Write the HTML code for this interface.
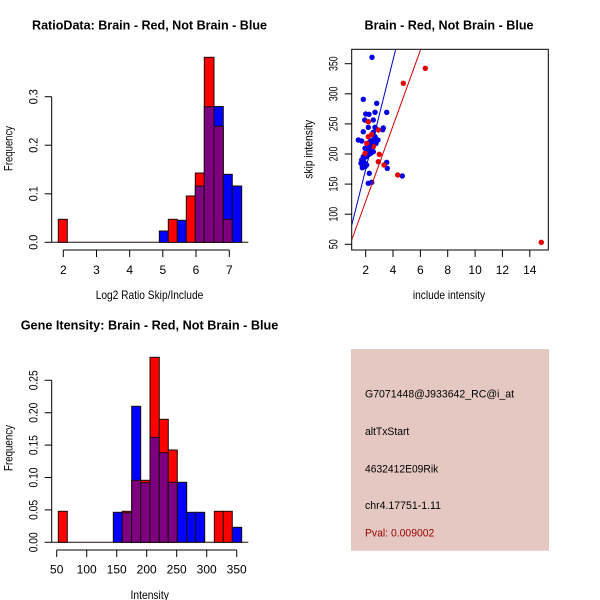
<!DOCTYPE html>
<html><head><meta charset="utf-8"><style>
html,body{margin:0;padding:0;background:#fff;}
svg{display:block;}
text{font-family:"Liberation Sans",sans-serif;fill:#000;}
.t{font-weight:bold;font-size:12.8px;}
.l{font-size:12px;}
</style></head><body>
<svg width="600" height="600" viewBox="0 0 600 600" xmlns="http://www.w3.org/2000/svg">
<rect width="600" height="600" fill="#fff"/>

<!-- ===== Top-left histogram ===== -->
<text class="t" x="149.5" y="29.5" text-anchor="middle" textLength="235" lengthAdjust="spacingAndGlyphs">RatioData: Brain - Red, Not Brain - Blue</text>
<g stroke="#1a0a0a" stroke-width="1">
<line x1="51.7" y1="242.3" x2="248.3" y2="242.3"/>
<rect x="58.3" y="219.3" width="9" height="23" fill="#ff0000"/>
<rect x="159.3" y="231" width="9" height="11.3" fill="#0000ff"/>
<rect x="168.3" y="219.3" width="9" height="23" fill="#ff0000"/>
<rect x="177.3" y="220.3" width="9" height="22" fill="#0000ff"/>
<rect x="186.3" y="196" width="9" height="46.3" fill="#ff0000"/>
<rect x="195.3" y="173" width="9" height="69.3" fill="#ff0000"/>
<rect x="195.3" y="186" width="9" height="56.3" fill="#7d0080"/>
<rect x="204.3" y="57.3" width="9.7" height="185" fill="#ff0000"/>
<rect x="204.3" y="106.7" width="9.7" height="135.6" fill="#7d0080"/>
<rect x="214" y="106.5" width="9.3" height="135.8" fill="#0000ff"/>
<rect x="214" y="126.3" width="9.3" height="116" fill="#7d0080"/>
<rect x="223.3" y="174.3" width="9" height="68" fill="#0000ff"/>
<rect x="223.3" y="219.3" width="9" height="23" fill="#7d0080"/>
<rect x="232.3" y="186" width="9.4" height="56.3" fill="#0000ff"/>
</g>
<g stroke="#000" stroke-width="1" fill="none">
<line x1="51.7" y1="96.7" x2="51.7" y2="242.3"/>
<line x1="44.7" y1="96.7" x2="51.7" y2="96.7"/>
<line x1="44.7" y1="145.2" x2="51.7" y2="145.2"/>
<line x1="44.7" y1="193.8" x2="51.7" y2="193.8"/>
<line x1="44.7" y1="242.3" x2="51.7" y2="242.3"/>
<line x1="63.3" y1="250" x2="229.3" y2="250"/>
<line x1="63.3" y1="250" x2="63.3" y2="257"/>
<line x1="96.5" y1="250" x2="96.5" y2="257"/>
<line x1="129.7" y1="250" x2="129.7" y2="257"/>
<line x1="162.8" y1="250" x2="162.8" y2="257"/>
<line x1="196" y1="250" x2="196" y2="257"/>
<line x1="229.3" y1="250" x2="229.3" y2="257"/>
</g>
<g class="l" text-anchor="middle">
<text x="63.3" y="274">2</text><text x="96.5" y="274">3</text><text x="129.7" y="274">4</text>
<text x="162.8" y="274">5</text><text x="196" y="274">6</text><text x="229.3" y="274">7</text>
<text x="149.5" y="299" textLength="107.6" lengthAdjust="spacingAndGlyphs">Log2 Ratio Skip/Include</text>
<text transform="translate(37.3,242.3) rotate(-90)" textLength="15" lengthAdjust="spacingAndGlyphs">0.0</text>
<text transform="translate(37.3,193.8) rotate(-90)" textLength="15" lengthAdjust="spacingAndGlyphs">0.1</text>
<text transform="translate(37.3,145.2) rotate(-90)" textLength="15" lengthAdjust="spacingAndGlyphs">0.2</text>
<text transform="translate(37.3,96.7) rotate(-90)" textLength="15" lengthAdjust="spacingAndGlyphs">0.3</text>
<text transform="translate(12.3,148.5) rotate(-90)" textLength="45" lengthAdjust="spacingAndGlyphs">Frequency</text>
</g>

<!-- ===== Top-right scatter ===== -->
<text class="t" x="449" y="29.5" text-anchor="middle" textLength="169" lengthAdjust="spacingAndGlyphs">Brain - Red, Not Brain - Blue</text>
<defs><clipPath id="cp"><rect x="351.7" y="49.3" width="196.6" height="200.7"/></clipPath></defs>
<g fill="#0000e6">
<circle cx="372" cy="57.3" r="2.7"/>
<circle cx="363.3" cy="99.3" r="2.7"/>
<circle cx="376.7" cy="103.3" r="2.7"/>
<circle cx="365.7" cy="114" r="2.7"/>
<circle cx="369" cy="114.3" r="2.7"/>
<circle cx="375" cy="112.3" r="2.7"/>
<circle cx="386.7" cy="112.3" r="2.7"/>
<circle cx="364.7" cy="120" r="2.7"/>
<circle cx="373.3" cy="120" r="2.7"/>
<circle cx="368.3" cy="127.3" r="2.7"/>
<circle cx="375" cy="127.3" r="2.7"/>
<circle cx="383.3" cy="128" r="2.7"/>
<circle cx="382.7" cy="129.7" r="2.7"/>
<circle cx="363.3" cy="131.7" r="2.7"/>
<circle cx="373.3" cy="132.3" r="2.7"/>
<circle cx="358.3" cy="140" r="2.7"/>
<circle cx="361.7" cy="141" r="2.7"/>
<circle cx="375" cy="138.3" r="2.7"/>
<circle cx="370" cy="141.7" r="2.7"/>
<circle cx="371.7" cy="145" r="2.7"/>
<circle cx="365" cy="148.3" r="2.7"/>
<circle cx="373.3" cy="146.7" r="2.7"/>
<circle cx="368.3" cy="151.7" r="2.7"/>
<circle cx="366.7" cy="156.7" r="2.7"/>
<circle cx="363.3" cy="160" r="2.7"/>
<circle cx="365" cy="163.3" r="2.7"/>
<circle cx="386.7" cy="162.3" r="2.7"/>
<circle cx="387.3" cy="168.3" r="2.7"/>
<circle cx="363.3" cy="166.7" r="2.7"/>
<circle cx="366.7" cy="165" r="2.7"/>
<circle cx="369.3" cy="173.3" r="2.7"/>
<circle cx="368.3" cy="183.3" r="2.7"/>
<circle cx="371.7" cy="182.3" r="2.7"/>
<circle cx="402.3" cy="176" r="2.7"/>
<circle cx="376" cy="143.3" r="2.7"/>
<circle cx="378" cy="140" r="2.7"/>
<circle cx="375" cy="136.7" r="2.7"/>
<circle cx="372.7" cy="140" r="2.7"/>
<circle cx="371" cy="143.3" r="2.7"/>
<circle cx="369.3" cy="146.7" r="2.7"/>
<circle cx="368.3" cy="155" r="2.7"/>
<circle cx="363.3" cy="156.7" r="2.7"/>
<circle cx="361.7" cy="160" r="2.7"/>
<circle cx="361" cy="163.3" r="2.7"/>
<circle cx="365" cy="166.7" r="2.7"/>
<circle cx="362.3" cy="167.7" r="2.7"/>
<circle cx="373.3" cy="151.7" r="2.7"/>
<circle cx="370.7" cy="153.3" r="2.7"/>
<circle cx="371.3" cy="150" r="2.7"/>
</g>
<g fill="#e60000">
<circle cx="403.3" cy="83.3" r="2.7"/>
<circle cx="425.3" cy="68.3" r="2.7"/>
<circle cx="541.3" cy="242.3" r="2.7"/>
<circle cx="368.3" cy="121.7" r="2.7"/>
<circle cx="378.3" cy="130" r="2.7"/>
<circle cx="368.3" cy="136.7" r="2.7"/>
<circle cx="371.7" cy="134.3" r="2.7"/>
<circle cx="366.7" cy="143.3" r="2.7"/>
<circle cx="365" cy="153.3" r="2.7"/>
<circle cx="379.3" cy="154.3" r="2.7"/>
<circle cx="378.3" cy="161.7" r="2.7"/>
<circle cx="384" cy="165" r="2.7"/>
<circle cx="397.7" cy="175" r="2.7"/>
<circle cx="373.5" cy="146.5" r="2.7"/>
</g>
<g clip-path="url(#cp)" stroke-width="1">
<line x1="351.7" y1="225.3" x2="395.7" y2="49.3" stroke="#0000cc"/>
<line x1="351.7" y1="240" x2="420.7" y2="49.3" stroke="#cc0000"/>
</g>
<g stroke="#000" stroke-width="1" fill="none">
<rect x="351.7" y="49.3" width="196.6" height="200.7"/>
<line x1="344.7" y1="63.7" x2="351.7" y2="63.7"/>
<line x1="344.7" y1="93.8" x2="351.7" y2="93.8"/>
<line x1="344.7" y1="123.9" x2="351.7" y2="123.9"/>
<line x1="344.7" y1="154" x2="351.7" y2="154"/>
<line x1="344.7" y1="184.1" x2="351.7" y2="184.1"/>
<line x1="344.7" y1="214.2" x2="351.7" y2="214.2"/>
<line x1="344.7" y1="244.3" x2="351.7" y2="244.3"/>
<line x1="365.7" y1="250" x2="365.7" y2="257"/>
<line x1="393" y1="250" x2="393" y2="257"/>
<line x1="420.4" y1="250" x2="420.4" y2="257"/>
<line x1="447.7" y1="250" x2="447.7" y2="257"/>
<line x1="475.1" y1="250" x2="475.1" y2="257"/>
<line x1="502.4" y1="250" x2="502.4" y2="257"/>
<line x1="529.8" y1="250" x2="529.8" y2="257"/>
</g>
<g class="l" text-anchor="middle">
<text x="365.7" y="274">2</text><text x="393" y="274">4</text><text x="420.4" y="274">6</text>
<text x="447.7" y="274">8</text><text x="475.1" y="274">10</text><text x="502.4" y="274">12</text><text x="529.8" y="274">14</text>
<text x="449" y="299" textLength="72.3" lengthAdjust="spacingAndGlyphs">include intensity</text>
<text transform="translate(337.3,63.7) rotate(-90)" textLength="14.7" lengthAdjust="spacingAndGlyphs">350</text>
<text transform="translate(337.3,93.8) rotate(-90)" textLength="14.7" lengthAdjust="spacingAndGlyphs">300</text>
<text transform="translate(337.3,123.9) rotate(-90)" textLength="14.7" lengthAdjust="spacingAndGlyphs">250</text>
<text transform="translate(337.3,154) rotate(-90)" textLength="14.7" lengthAdjust="spacingAndGlyphs">200</text>
<text transform="translate(337.3,184.1) rotate(-90)" textLength="14.7" lengthAdjust="spacingAndGlyphs">150</text>
<text transform="translate(337.3,214.2) rotate(-90)" textLength="14.7" lengthAdjust="spacingAndGlyphs">100</text>
<text transform="translate(337.3,244.3) rotate(-90)" textLength="10" lengthAdjust="spacingAndGlyphs">50</text>
<text transform="translate(312.3,149.3) rotate(-90)" textLength="59" lengthAdjust="spacingAndGlyphs">skip intensity</text>
</g>

<!-- ===== Bottom-left histogram ===== -->
<text class="t" x="149.5" y="329.5" text-anchor="middle" textLength="257.6" lengthAdjust="spacingAndGlyphs">Gene Itensity: Brain - Red, Not Brain - Blue</text>
<g stroke="#1a0a0a" stroke-width="1">
<line x1="51.7" y1="542.3" x2="248.3" y2="542.3"/>
<rect x="58.3" y="511.3" width="9" height="31" fill="#ff0000"/>
<rect x="113.3" y="512.3" width="9" height="30" fill="#0000ff"/>
<rect x="122.3" y="511.3" width="9.4" height="31" fill="#ff0000"/>
<rect x="122.3" y="512.7" width="9.4" height="29.6" fill="#7d0080"/>
<rect x="131.7" y="406.3" width="9" height="136" fill="#0000ff"/>
<rect x="131.7" y="480.3" width="9" height="62" fill="#7d0080"/>
<rect x="140.7" y="480.3" width="9.3" height="62" fill="#ff0000"/>
<rect x="140.7" y="482.7" width="9.3" height="59.6" fill="#7d0080"/>
<rect x="150" y="357.3" width="9.3" height="185" fill="#ff0000"/>
<rect x="150" y="437.3" width="9.3" height="105" fill="#7d0080"/>
<rect x="159.3" y="419.3" width="9" height="123" fill="#ff0000"/>
<rect x="159.3" y="452.7" width="9" height="89.6" fill="#7d0080"/>
<rect x="168.3" y="450" width="9" height="92.3" fill="#ff0000"/>
<rect x="168.3" y="482.3" width="9" height="60" fill="#7d0080"/>
<rect x="177.3" y="482.3" width="9.4" height="60" fill="#0000ff"/>
<rect x="186.7" y="512.3" width="9" height="30" fill="#0000ff"/>
<rect x="195.7" y="512.3" width="9" height="30" fill="#0000ff"/>
<rect x="214.3" y="511.3" width="9" height="31" fill="#ff0000"/>
<rect x="223.3" y="511.3" width="9" height="31" fill="#ff0000"/>
<rect x="232.3" y="527.3" width="9.4" height="15" fill="#0000ff"/>
</g>
<g stroke="#000" stroke-width="1" fill="none">
<line x1="51.7" y1="380.3" x2="51.7" y2="542.3"/>
<line x1="44.7" y1="380.3" x2="51.7" y2="380.3"/>
<line x1="44.7" y1="412.7" x2="51.7" y2="412.7"/>
<line x1="44.7" y1="445.1" x2="51.7" y2="445.1"/>
<line x1="44.7" y1="477.5" x2="51.7" y2="477.5"/>
<line x1="44.7" y1="509.9" x2="51.7" y2="509.9"/>
<line x1="44.7" y1="542.3" x2="51.7" y2="542.3"/>
<line x1="56.7" y1="550" x2="236.7" y2="550"/>
<line x1="56.7" y1="550" x2="56.7" y2="557"/>
<line x1="86.7" y1="550" x2="86.7" y2="557"/>
<line x1="116.7" y1="550" x2="116.7" y2="557"/>
<line x1="146.7" y1="550" x2="146.7" y2="557"/>
<line x1="176.7" y1="550" x2="176.7" y2="557"/>
<line x1="206.7" y1="550" x2="206.7" y2="557"/>
<line x1="236.7" y1="550" x2="236.7" y2="557"/>
</g>
<g class="l" text-anchor="middle">
<text x="56.7" y="573.3">50</text><text x="86.7" y="573.3">100</text><text x="116.7" y="573.3">150</text>
<text x="146.7" y="573.3">200</text><text x="176.7" y="573.3">250</text><text x="206.7" y="573.3">300</text><text x="236.7" y="573.3">350</text>
<text x="149.7" y="599" textLength="38.3" lengthAdjust="spacingAndGlyphs">Intensity</text>
<text transform="translate(37.3,542.3) rotate(-90)" textLength="20" lengthAdjust="spacingAndGlyphs">0.00</text>
<text transform="translate(37.3,509.9) rotate(-90)" textLength="20" lengthAdjust="spacingAndGlyphs">0.05</text>
<text transform="translate(37.3,477.5) rotate(-90)" textLength="20" lengthAdjust="spacingAndGlyphs">0.10</text>
<text transform="translate(37.3,445.1) rotate(-90)" textLength="20" lengthAdjust="spacingAndGlyphs">0.15</text>
<text transform="translate(37.3,412.7) rotate(-90)" textLength="20" lengthAdjust="spacingAndGlyphs">0.20</text>
<text transform="translate(37.3,380.3) rotate(-90)" textLength="20" lengthAdjust="spacingAndGlyphs">0.25</text>
<text transform="translate(12.3,448) rotate(-90)" textLength="46" lengthAdjust="spacingAndGlyphs">Frequency</text>
</g>

<!-- ===== Bottom-right info box ===== -->
<rect x="351" y="349" width="198" height="201.7" fill="#e5c8c1"/>
<g style="font-size:11px">
<text x="365" y="397.3" textLength="149" lengthAdjust="spacingAndGlyphs">G7071448@J933642_RC@i_at</text>
<text x="365" y="435" textLength="44.3" lengthAdjust="spacingAndGlyphs">altTxStart</text>
<text x="365" y="472.3" textLength="73.3" lengthAdjust="spacingAndGlyphs">4632412E09Rik</text>
<text x="365" y="509" textLength="76" lengthAdjust="spacingAndGlyphs">chr4.17751-1.11</text>
<text x="365" y="536.3" textLength="69.3" lengthAdjust="spacingAndGlyphs" style="fill:#990000">Pval: 0.009002</text>
</g>
</svg>
</body></html>
